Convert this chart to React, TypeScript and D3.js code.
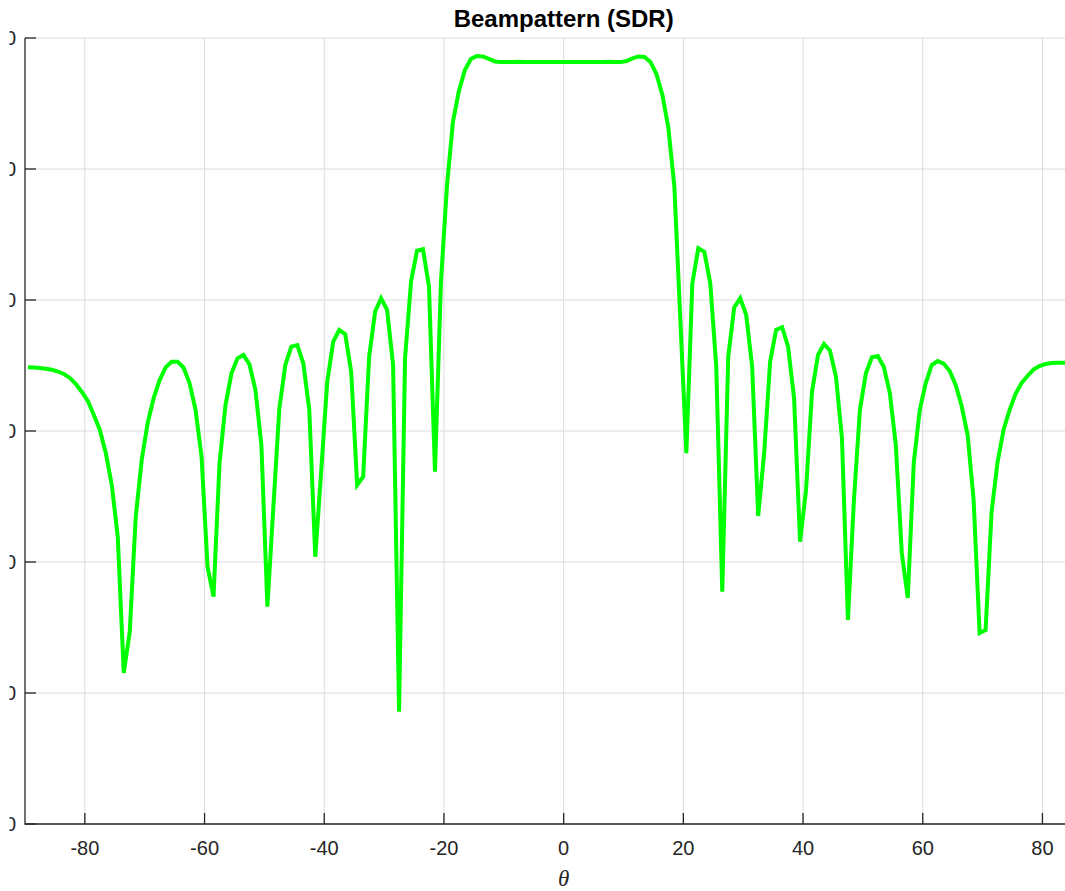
import * as d3 from "d3";

// beampattern samples, 1° grid from -89.5° to 89.5°
const theta = d3.range(-89.5, 90, 1);

// SDR beampattern (dB)
const sdrDb = [
  -25.14, -25.15, -25.19, -25.25, -25.33, -25.46, -25.65, -25.95, -26.41, -27.02,
  -27.71, -28.78, -29.92, -31.68, -34.12, -38.09, -48.47, -45.34, -36.56, -32.21,
  -29.39, -27.48, -26.11, -25.14, -24.71, -24.71, -25.17, -26.36, -28.4, -31.96,
  -40.36, -42.65, -32.47, -28.02, -25.6, -24.45, -24.2, -24.91, -26.87, -31.07,
  -43.41, -35.78, -28.27, -24.96, -23.56, -23.44, -24.83, -28.4, -39.6, -32.98,
  -26.24, -23.18, -22.29, -22.6, -25.47, -34.12, -33.49, -24.33, -20.89, -19.87,
  -20.76, -24.96, -51.43, -24.45, -18.6, -16.24, -16.13, -18.98, -33.11, -18.6,
  -11.3, -6.41, -4.05, -2.44, -1.6, -1.37, -1.41, -1.6, -1.79, -1.83,
  -1.84, -1.83, -1.82, -1.83, -1.84, -1.84, -1.83, -1.83, -1.84, -1.84,
  -1.84, -1.84, -1.83, -1.83, -1.84, -1.84, -1.83, -1.82, -1.83, -1.84,
  -1.76, -1.56, -1.41, -1.45, -1.83, -2.75, -4.35, -6.87, -11.37, -21.53,
  -31.7, -18.73, -16.05, -16.31, -18.73, -25.09, -42.27, -24.33, -20.56, -19.87,
  -21.15, -25.09, -36.49, -31.7, -24.71, -22.29, -22.08, -23.56, -27.5, -38.45,
  -34.5, -27.0, -24.2, -23.36, -23.87, -25.85, -30.56, -44.43, -35.27, -28.4,
  -25.6, -24.37, -24.27, -25.11, -27.1, -31.07, -39.31, -42.75, -32.44, -28.4,
  -26.34, -24.96, -24.66, -24.85, -25.42, -26.49, -28.09, -30.31, -35.27, -45.42,
  -45.19, -36.18, -32.37, -29.92, -28.4, -27.18, -26.34, -25.8, -25.31, -25.04,
  -24.89, -24.81, -24.79, -24.79, -24.78, -24.78, -24.79, -24.8, -24.82, -24.85,
];

const xTicks = [-80, -60, -40, -20, 0, 20, 40, 60, 80];
const yTicks = [-60, -50, -40, -30, -20, -10, 0];

const W = 1065;
const H = 891;
const left = 25;
const top = 38;
const bottom = 824;
const right = left + 180 * 5.985;

const axisColor = "#262626";
const gridColor = "#dcdcdc";
const font = "'Liberation Sans', Arial, Helvetica, sans-serif";

export default function App() {
  const x = d3.scaleLinear().domain([-90, 90]).range([left, right]);
  const y = d3.scaleLinear().domain([-60, 0]).range([bottom, top]);

  const line = d3
    .line<number>()
    .x((_, i) => x(theta[i]))
    .y((d) => y(d));

  return (
    <svg
      width={W}
      height={H}
      style={{ position: "fixed", left: 0, top: 0, background: "#fff" }}
    >
      <defs>
        <clipPath id="plotClip">
          <rect x={left} y={top - 4} width={right - left} height={bottom - top + 4} />
        </clipPath>
        {/* the y tick labels sit off the left edge, as in the original figure */}
        <clipPath id="labelClip">
          <rect x={9.5} y={0} width={W} height={H} />
        </clipPath>
      </defs>

      {/* grid */}
      <g stroke={gridColor} strokeWidth={1}>
        {xTicks.map((t) => (
          <line key={"gx" + t} x1={x(t)} x2={x(t)} y1={top} y2={bottom} />
        ))}
        {yTicks.map((t) => (
          <line key={"gy" + t} x1={left} x2={right} y1={y(t)} y2={y(t)} />
        ))}
      </g>

      {/* beampattern */}
      <path
        d={line(sdrDb) ?? ""}
        fill="none"
        stroke="#00ff00"
        strokeWidth={4}
        clipPath="url(#plotClip)"
      />

      {/* axes */}
      <g stroke={axisColor} strokeWidth={1.3}>
        <line x1={left} x2={left} y1={top} y2={bottom + 0.65} />
        <line x1={left} x2={right} y1={bottom} y2={bottom} />
        {yTicks.map((t) => (
          <line key={"ty" + t} x1={left} x2={left + 11} y1={y(t)} y2={y(t)} />
        ))}
        {xTicks.map((t) => (
          <line key={"tx" + t} x1={x(t)} x2={x(t)} y1={bottom} y2={bottom - 11} />
        ))}
      </g>

      {/* tick labels */}
      <g fill={axisColor} fontFamily={font} fontSize={20}>
        {xTicks.map((t) => (
          <text key={"lx" + t} x={x(t)} y={855} textAnchor="middle">
            {t}
          </text>
        ))}
        <g clipPath="url(#labelClip)">
          {yTicks.map((t) => (
            <text
              key={"ly" + t}
              x={16}
              y={y(t)}
              textAnchor="end"
              dominantBaseline="central"
            >
              {t}
            </text>
          ))}
        </g>
      </g>

      {/* title and x label */}
      <text
        x={x(0)}
        y={27}
        textAnchor="middle"
        fontFamily={font}
        fontWeight="bold"
        fontSize={24}
        fill="#000"
      >
        Beampattern (SDR)
      </text>
      <text
        x={x(0)}
        y={886}
        textAnchor="middle"
        fontFamily="'Liberation Serif', 'DejaVu Serif', serif"
        fontStyle="italic"
        fontSize={23}
        fill={axisColor}
      >
        θ
      </text>
    </svg>
  );
}
